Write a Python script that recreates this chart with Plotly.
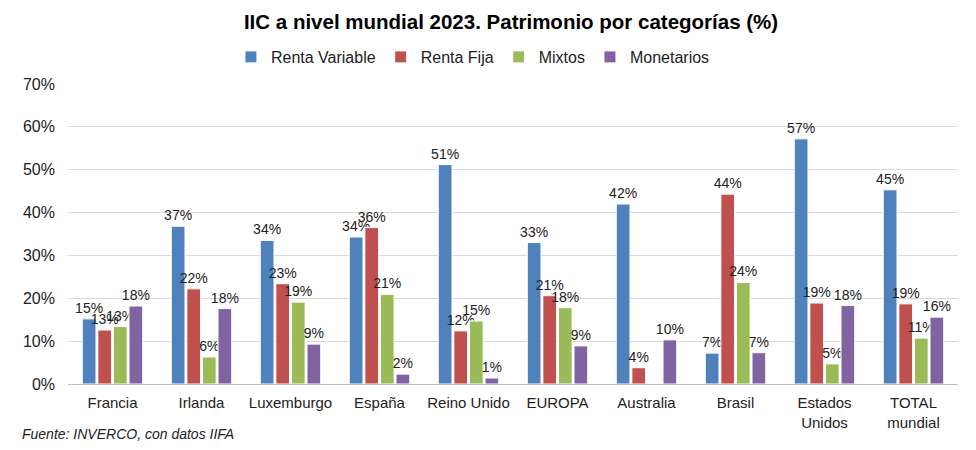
"""IIC a nivel mundial 2023: patrimonio por categorías"""

import plotly.graph_objects as go

paises = [
    "Francia", "Irlanda", "Luxemburgo", "España", "Reino Unido",
    "EUROPA", "Australia", "Brasil", "Estados<br>Unidos", "TOTAL<br>mundial",
]
renta_variable = [15.2, 36.8, 33.5, 34.3, 51.2, 33.0, 42.0, 7.2, 57.2, 45.3]
renta_fija = [12.6, 22.2, 23.4, 36.5, 12.4, 20.6, 3.8, 44.3, 18.9, 18.7]
mixtos = [13.4, 6.3, 19.1, 20.9, 14.7, 17.8, None, 23.7, 4.7, 10.7]
monetarios = [18.2, 17.6, 9.3, 2.3, 1.4, 8.9, 10.3, 7.3, 18.3, 15.6]

series = [
    ("Renta Variable", renta_variable, "#4F81BD"),
    ("Renta Fija", renta_fija, "#C0504D"),
    ("Mixtos", mixtos, "#9BBB59"),
    ("Monetarios", monetarios, "#8064A2"),
]

FONT = "Liberation Sans, Arial, sans-serif"

fig = go.Figure()
for name, values, color in series:
    fig.add_trace(
        go.Bar(
            x=paises,
            y=values,
            name=name,
            marker=dict(color=color, line=dict(color="white", width=1)),
            text=[f"{v:.0f}%" if v is not None else "" for v in values],
            textposition="outside",
            constraintext="none",
            cliponaxis=False,
            textfont=dict(family=FONT, size=14, color="#222222"),
        )
    )

# the page body keeps its default 8px margin, so the figure is sized to fit inside it
fig.update_layout(
    width=960,
    height=434,
    margin=dict(l=60, r=10, t=76, b=58, autoexpand=False),
    paper_bgcolor="white",
    plot_bgcolor="white",
    barmode="group",
    bargap=0.3,
    bargroupgap=0.12,
    font=dict(family=FONT, size=15, color="#222222"),
    title=dict(
        text="<b>IIC a nivel mundial 2023. Patrimonio por categorías (%)</b>",
        x=0.524,
        xanchor="center",
        y=0.968,
        yanchor="middle",
        font=dict(family=FONT, size=20.5, color="#000000"),
    ),
    legend=dict(
        orientation="h",
        x=0.455,
        xanchor="center",
        y=1.09,
        yanchor="middle",
        font=dict(family=FONT, size=16, color="#222222"),
        itemwidth=30,
        traceorder="normal",
    ),
    showlegend=True,
)

fig.update_xaxes(
    automargin=False,
    showgrid=False,
    showline=True,
    linecolor="#BFBFBF",
    ticks="",
    ticklabelstandoff=5,
    tickfont=dict(family=FONT, size=15, color="#222222"),
)
fig.update_yaxes(
    automargin=False,
    range=[0, 70],
    dtick=10,
    ticksuffix="%",
    showgrid=True,
    gridcolor="#D9D9D9",
    zeroline=False,
    ticks="",
    ticklabelstandoff=12,
    tickfont=dict(family=FONT, size=16, color="#222222"),
)

fig.add_annotation(
    text="<i>Fuente: INVERCO, con datos IIFA</i>",
    xref="paper",
    yref="paper",
    x=-0.054,
    y=-0.165,
    xanchor="left",
    yanchor="middle",
    showarrow=False,
    font=dict(family=FONT, size=14, color="#222222"),
)

fig.write_html("out.html")
